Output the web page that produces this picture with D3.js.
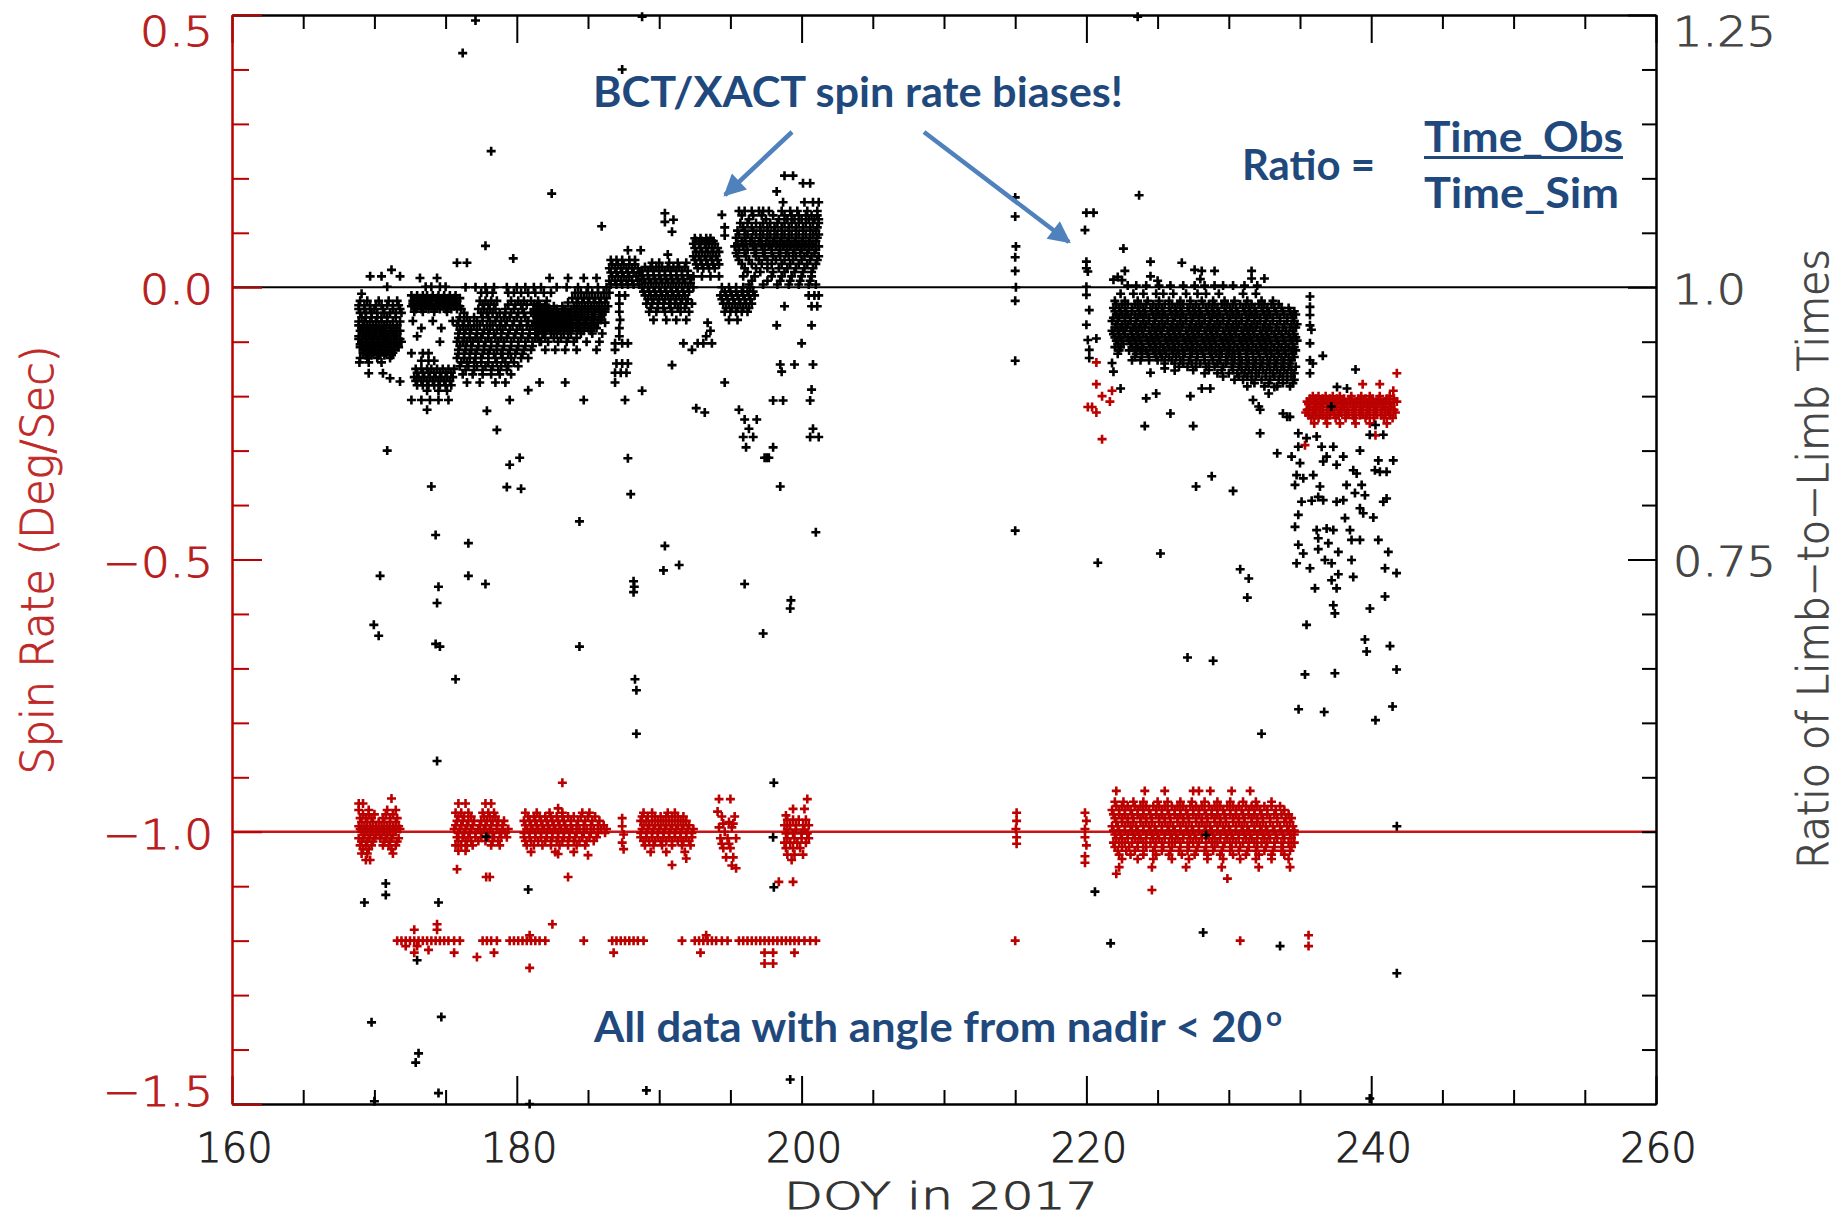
<!DOCTYPE html>
<html><head><meta charset="utf-8">
<script src="https://cdn.jsdelivr.net/npm/d3@7"></script>
<style>body{margin:0;background:#fff}svg{display:block}</style>
</head><body>
<svg id="chart" width="1841" height="1220"></svg>
<script>
// ---------- axis / tick definitions ----------
const xDomain = [160, 260];
const xMajorTicks = [160, 180, 200, 220, 240, 260];
const xMinorTicks = [165,170,175,185,190,195,205,210,215,225,230,235,245,250,255];
const yDomain = [-1.5, 0.5];
const yMajorTicks = [0.5, 0.0, -0.5, -1.0, -1.5];
const yTickLabels = ["0.5", "0.0", "\u22120.5", "\u22121.0", "\u22121.5"];
const yMinorTicks = [0.4,0.3,0.2,0.1,-0.1,-0.2,-0.3,-0.4,-0.6,-0.7,-0.8,-0.9,-1.1,-1.2,-1.3,-1.4];
const rDomain = [0.25, 1.25];
const rMajorTicks = [1.25, 1.0, 0.75];
const rTickLabels = ["1.25", "1.0", "0.75"];
const rMinorTicks = [1.2,1.15,1.1,1.05,0.95,0.9,0.85,0.8,0.7,0.65,0.6,0.55,0.5,0.45,0.4,0.35,0.3];
const refLines = [0.0, -1.0];

// ---------- black points (limb-to-limb ratio, plotted on spin-rate scale) ----------
// rows: [value, [DOY, DOY, ...]]
const blackRowsJun = [
 [0.02,[169.7,170.5,171.8]],[0.032,[171.2]],[0.001,[170.9,173.6,174.0,174.6,175.0]],[-0.012,[169.1]],
 [-0.025,[169.0,169.5,170.3,171.0,171.6]],
 [-0.04,[168.9,169.3,169.7,170.0,170.6,171.3,171.8]],
 [-0.055,[169.1,169.4,169.8,170.2,170.5,170.9,171.5]],
 [-0.07,[168.9,169.2,169.5,169.9,170.3,170.7,171.1,171.6]],
 [-0.08,[169.0,169.4,169.7,170.1,170.5,170.8,171.3,171.8]],
 [-0.09,[168.9,169.2,169.6,170.0,170.4,170.7,171.0,171.5]],
 [-0.10,[169.1,169.4,169.8,170.2,170.6,170.9,171.4,171.9]],
 [-0.11,[169.0,169.3,169.7,170.1,170.5,171.0,171.7]],
 [-0.12,[169.2,169.6,169.9,170.4,170.8,171.3]],
 [-0.13,[169.0,169.5,170.2,171.1]],[-0.138,[168.95,169.6,170.5]],[-0.158,[169.6,170.6]],[-0.167,[171.1]],[-0.173,[171.8]],
 [0.017,[173.2,174.4]],
 [-0.015,[172.6,173.0,173.4,173.7,174.1,174.5,174.9,175.3,175.7]],
 [-0.025,[172.7,173.1,173.5,173.9,174.3,174.6,175.0,175.4,175.8]],
 [-0.035,[172.6,173.0,173.3,173.6,174.0,174.4,174.8,175.2,175.6,176.0]],
 [-0.045,[172.8,173.4,174.2,175.1]],[-0.062,[172.7,174.1,175.5]],[-0.075,[173.3,174.7]],[-0.09,[173.0]],[-0.10,[174.6]],
 [-0.121,[172.6,173.4,173.8]],[-0.135,[173.3,173.8,174.2]],
 [-0.15,[172.9,173.3,173.7,174.0,174.4,174.8,175.2,175.6]],
 [-0.165,[172.8,173.1,173.5,173.9,174.3,174.7,175.1,175.5]],
 [-0.18,[173.0,173.4,173.8,174.2,174.6,175.0,175.4]],
 [-0.19,[173.7,174.5,175.1]],[-0.207,[172.6,173.3,173.9,174.5,175.2]],[-0.225,[173.7]],
 [0.0,[176.4,177.1,177.8,178.4,179.3,180.0,180.6,181.2,181.7]],
 [-0.01,[177.5,177.9,178.3,179.4,179.8,180.3,180.8,181.3,181.9,182.4]],
 [-0.025,[177.4,177.8,178.2,178.6,179.6,180.1,180.5,181.0,181.5,182.1]],
 [-0.04,[176.1,177.3,177.7,178.1,178.5,179.2,179.8,180.4,181.2,181.8,182.3]],
 [-0.055,[176.0,176.5,177.0,177.6,178.0,178.6,179.1,179.5,180.0,180.6,181.4,182.0]],
 [-0.07,[175.8,176.2,176.6,177.0,177.4,177.9,178.3,178.8,179.2,179.7,180.2,180.7,181.1,181.6,182.2]],
 [-0.085,[175.9,176.3,176.7,177.2,177.6,178.0,178.4,178.9,179.4,179.9,180.4,180.9,181.4,181.9]],
 [-0.10,[175.8,176.2,176.5,176.9,177.3,177.8,178.2,178.7,179.1,179.6,180.1,180.6,181.1,181.7]],
 [-0.115,[175.9,176.4,176.8,177.2,177.7,178.1,178.6,179.0,179.5,180.0,180.5,181.0]],
 [-0.13,[175.8,176.3,176.7,177.1,177.5,178.0,178.5,179.0,179.6,180.3,180.8]],
 [-0.145,[176.0,176.6,177.2,177.8,178.3,178.9,179.4,180.1]],
 [-0.16,[176.2,176.9,177.6,178.2,178.8,179.6]],
 [-0.175,[176.5,177.4,178.5,179.2,181.6]],[-0.189,[180.8]],[-0.207,[179.5]]
];
const blackFillJun = [
 [-0.033,[168.9,169.3,169.7,170.1,170.5,170.9,171.3,171.7]],
 [-0.047,[169.0,169.4,169.8,170.2,170.7,171.1,171.5,171.9]],
 [-0.063,[168.9,169.3,169.7,170.1,170.5,170.9,171.3,171.8]],
 [-0.075,[169.1,169.5,169.9,170.3,170.7,171.1,171.5]],
 [-0.085,[169.2,169.6,170.0,170.4,170.8,171.2,171.6]],
 [-0.095,[168.9,169.4,169.8,170.2,170.6,171.0,171.4,171.8]],
 [-0.105,[169.0,169.5,169.9,170.3,170.7,171.2,171.6]],
 [-0.115,[169.2,169.6,170.0,170.4,170.9,171.4]],
 [-0.125,[169.4,169.8,170.3,170.7,171.2]],
 [-0.02,[172.8,173.2,173.6,174.0,174.4,174.8,175.2,175.6,176.0]],
 [-0.03,[172.7,173.2,173.6,174.0,174.5,174.9,175.3,175.7]],
 [-0.04,[172.9,173.3,173.8,174.2,174.6,175.0,175.4,175.8]],
 [-0.157,[173.0,173.4,173.8,174.2,174.6,175.0,175.4]],
 [-0.172,[172.9,173.3,173.7,174.1,174.5,174.9,175.3]],
 [-0.032,[177.6,178.0,178.4,179.4,179.9,180.3,180.7,181.2,181.6,182.0]],
 [-0.047,[176.3,177.5,177.9,178.3,178.8,179.2,179.6,180.1,180.5,181.0,181.5,182.1]],
 [-0.062,[175.9,176.3,176.7,177.2,177.6,178.1,178.5,178.9,179.3,179.8,180.3,180.8,181.2,181.7,182.2]],
 [-0.078,[176.0,176.4,176.8,177.2,177.7,178.1,178.6,179.0,179.5,180.0,180.4,180.9,181.3,181.8]],
 [-0.093,[175.9,176.3,176.7,177.1,177.5,178.0,178.5,178.9,179.3,179.8,180.3,180.8,181.3]],
 [-0.108,[176.0,176.4,176.8,177.3,177.7,178.2,178.6,179.1,179.6,180.1,180.6,181.1]],
 [-0.122,[175.9,176.3,176.7,177.1,177.6,178.0,178.4,178.9,179.4,179.9,180.4]],
 [-0.138,[176.1,176.5,177.0,177.5,178.0,178.6,179.2,179.8]],
 [-0.152,[176.4,177.0,177.6,178.2,178.7,179.3]]
];
const blackRowsJul = [
 [0.017,[182.3,183.6,184.7,185.6]],
 [0.0,[182.8,183.5,184.3,185.0,185.7,186.3]],
 [-0.01,[184.1,184.5,184.9,185.3,185.7,186.1,186.5]],
 [-0.02,[183.9,184.3,184.7,185.1,185.5,185.9,186.3]],
 [-0.035,[181.4,182.0,182.6,183.2,184.0,184.4,184.8,185.2,185.6,186.0,186.4]],
 [-0.045,[181.2,181.6,182.0,182.4,182.8,183.2,183.6,184.1,184.6,185.0,185.4,185.8,186.2]],
 [-0.055,[181.4,181.8,182.2,182.6,183.0,183.4,183.8,184.3,184.8,185.3,185.9]],
 [-0.065,[181.3,181.7,182.1,182.5,182.9,183.3,183.7,184.2,184.7,185.2,185.7,186.2]],
 [-0.075,[181.5,181.9,182.3,182.7,183.1,183.5,183.9,184.4,185.0,185.6]],
 [-0.085,[181.3,181.8,182.4,182.8,183.3,183.8,184.5,185.3,186.0]],
 [-0.10,[181.6,182.2,182.9,183.5,184.0,184.9,185.8]],
 [-0.115,[182.0,182.7,183.4,184.2,185.6,186.9]],[-0.175,[183.4]],[-0.207,[184.7]],
 [0.068,[187.8,188.7]],
 [0.05,[186.6,187.0,187.4,187.9,188.3]],
 [0.035,[186.5,186.9,187.3,187.7,188.1,188.5]],
 [0.02,[186.7,187.1,187.5,187.9,188.4]],
 [0.005,[186.6,187.0,187.4,187.8,188.2,188.6]],
 [-0.015,[187.2,187.6]],[-0.03,[187.2]],[-0.045,[187.2]],[-0.06,[187.25]],[-0.075,[187.2]],[-0.09,[187.2]],
 [-0.103,[186.9,187.4,187.8]],[-0.14,[187.0,187.4,187.8]],[-0.157,[186.9,187.3,187.7]],
 [-0.175,[186.9]],[-0.19,[188.8]],[-0.207,[187.6]],
 [0.136,[190.4]],[0.12,[190.4]],[0.124,[191.0]],[0.102,[190.9]],[0.06,[190.6]],
 [0.045,[189.5,190.0,190.7,191.3,191.9]],
 [0.03,[188.8,189.2,189.6,190.0,190.4,190.8,191.2,191.6,192.0]],
 [0.015,[188.9,189.3,189.7,190.1,190.5,190.9,191.3,191.7,192.2]],
 [0.0,[188.8,189.2,189.6,190.0,190.4,190.8,191.2,191.6,192.0,192.4]],
 [-0.015,[189.0,189.4,189.8,190.2,190.6,191.0,191.4,191.8]],
 [-0.03,[189.1,189.5,189.9,190.3,190.7,191.1,191.5,191.9,192.3]],
 [-0.045,[189.3,189.8,190.4,190.9,191.5,192.1]],
 [-0.06,[189.6,190.5,191.2,191.9]],
 [-0.103,[191.7,192.7,193.1,193.7]],[-0.115,[192.3]],[-0.143,[190.9]],[-0.222,[192.6]],
 [0.133,[194.4]],[0.11,[194.6]],[0.095,[194.6]],
 [0.09,[192.5,192.9,193.3,193.6]],
 [0.08,[192.4,192.8,193.2,193.5,193.9]],
 [0.065,[192.6,193.0,193.4,193.8,194.2]],
 [0.05,[192.5,192.9,193.3,193.7,194.1]],
 [0.035,[192.7,193.1,193.5,193.9]],
 [0.02,[192.4,193.0,193.6,194.2]],
 [0.0,[194.4,194.9,195.4,195.9,196.4]],
 [-0.015,[194.3,194.7,195.1,195.5,195.9,196.3,196.7]],
 [-0.03,[194.5,194.9,195.3,195.7,196.1,196.5]],
 [-0.045,[194.6,195.0,195.4,195.8,196.2]],
 [-0.06,[194.9,195.5]],[-0.065,[193.4]],[-0.08,[193.6]],[-0.09,[193.3]],[-0.175,[194.6]],[-0.225,[195.6]],
 [0.205,[198.8,199.4]],[0.191,[200.1,200.6]],[0.176,[198.25]],[0.156,[198.7,200.2,200.8,201.2]],
 [0.14,[195.6,196.0,196.5,197.0,197.3,197.7,198.6,199.2,199.7,200.4,201.1]],
 [0.125,[196.3,197.5,198.4,199.0,199.5,200.0,200.5,200.9,201.2]],
 [0.11,[195.9,196.5,197.1,197.6,198.1,198.6,199.1,199.6,200.1,200.6,201.1]],
 [0.097,[195.6,196.2,196.8,197.3,197.8,198.3,198.8,199.3,199.8,200.3,200.8,201.2]],
 [0.085,[195.8,196.4,197.0,197.5,198.0,198.5,199.0,199.5,200.0,200.5,201.0]],
 [0.075,[195.3,195.9,196.6,197.2,197.7,198.2,198.7,199.2,199.7,200.2,200.7,201.2]],
 [0.063,[195.4,196.0,196.7,197.3,197.9,198.4,198.9,199.4,199.9,200.4,200.9]],
 [0.05,[195.6,196.3,197.0,197.6,198.2,198.8,199.4,200.0,200.6,201.1]],
 [0.035,[196.0,196.8,197.6,198.4,199.0,199.6,200.2,200.8]],
 [0.02,[195.9,196.7,197.9,198.6,199.3,200.0,200.7]],
 [0.005,[196.3,197.3,198.3,199.1,199.8,200.5,201.0]],
 [-0.015,[200.5,200.9,201.2]],[-0.035,[198.8,200.7,201.1]],[-0.07,[198.25,200.7]],[-0.103,[200.0]],
 [-0.142,[198.5,199.5,200.8]],[-0.155,[198.6]],[-0.188,[200.7]],[-0.208,[198.0,198.7,200.6]],
 [-0.243,[196.0,196.85]],[-0.26,[196.3,200.8]],[-0.275,[195.9,196.6,200.6,201.2]],
 [-0.294,[196.1,198.0]],[-0.313,[197.4,197.55,197.7]],[-0.366,[198.5]]
];
const blackFillJul = [
 [-0.028,[183.6,184.2,184.6,185.0,185.4,185.8,186.2]],
 [-0.04,[181.6,182.2,182.8,183.4,183.8,184.2,184.6,185.0,185.4,185.8,186.2]],
 [-0.05,[181.3,181.7,182.1,182.5,182.9,183.3,183.7,184.1,184.5,185.0,185.5,186.0]],
 [-0.06,[181.5,181.9,182.3,182.7,183.1,183.5,183.9,184.4,184.9,185.4,185.9]],
 [-0.07,[181.4,181.8,182.2,182.6,183.0,183.4,183.8,184.3,184.8,185.4]],
 [-0.08,[181.6,182.0,182.4,182.9,183.3,183.7,184.2,184.7,185.2]],
 [-0.093,[181.5,182.0,182.6,183.1,183.6,184.2]],
 [0.042,[186.7,187.1,187.5,187.9,188.3]],
 [0.027,[186.6,187.0,187.4,187.8,188.2,188.6]],
 [0.012,[186.5,186.9,187.3,187.7,188.1,188.5]],
 [0.037,[189.0,189.4,189.8,190.2,190.6,191.0,191.4,191.8]],
 [0.022,[188.8,189.2,189.6,190.0,190.4,190.8,191.2,191.6,192.0]],
 [0.008,[189.0,189.4,189.8,190.2,190.6,191.0,191.4,191.8,192.2]],
 [-0.008,[188.9,189.3,189.7,190.1,190.5,190.9,191.3,191.7,192.1]],
 [-0.022,[189.2,189.6,190.0,190.4,190.8,191.2,191.6,192.0]],
 [-0.038,[189.4,189.9,190.3,190.8,191.3,191.8]],
 [0.085,[192.6,193.0,193.4,193.8]],
 [0.072,[192.5,192.9,193.3,193.7,194.1]],
 [0.057,[192.4,192.8,193.2,193.6,194.0]],
 [0.042,[192.6,193.0,193.4,193.8,194.2]],
 [-0.008,[194.6,195.0,195.4,195.8,196.2,196.6]],
 [-0.022,[194.4,194.8,195.2,195.6,196.0,196.4]],
 [-0.038,[194.7,195.1,195.5,195.9,196.3]],
 [0.132,[195.8,196.6,197.2,198.0,198.8,199.3,199.8,200.3,200.7,201.1]],
 [0.118,[195.7,196.2,196.8,197.3,197.8,198.3,198.8,199.3,199.8,200.3,200.8,201.2]],
 [0.104,[195.5,196.0,196.6,197.1,197.6,198.1,198.6,199.1,199.6,200.1,200.6,201.0]],
 [0.091,[195.4,196.0,196.5,197.1,197.6,198.1,198.6,199.1,199.6,200.1,200.6,201.1]],
 [0.08,[195.5,196.1,196.7,197.2,197.8,198.3,198.8,199.3,199.8,200.3,200.8]],
 [0.069,[195.6,196.2,196.8,197.4,197.9,198.5,199.0,199.5,200.0,200.5,201.0]],
 [0.057,[195.5,196.1,196.8,197.4,198.0,198.5,199.1,199.6,200.2,200.7,201.2]],
 [0.043,[195.8,196.5,197.2,197.9,198.6,199.2,199.8,200.4,201.0]],
 [0.028,[196.2,197.1,198.0,198.8,199.5,200.1,200.7]],
 [0.012,[196.5,197.6,198.5,199.2,199.9,200.6]]
];
// isolated black points [DOY, value], June-July
const blackOutJunJul = [
 [176.2,0.43],[177.1,0.49],[178.2,0.25],[182.45,0.172],[185.96,0.112],[187.4,0.40],[188.8,0.497],
 [175.8,0.045],[176.5,0.045],[177.8,0.076],[179.75,0.053],
 [170.9,-0.30],[170.4,-0.53],[169.96,-0.62],[170.3,-0.64],
 [174.0,-0.366],[174.3,-0.455],[174.5,-0.55],[174.4,-0.58],[174.3,-0.655],[174.6,-0.66],[175.7,-0.72],[174.4,-0.87],
 [177.9,-0.227],[178.6,-0.262],[179.5,-0.326],[180.2,-0.313],[176.6,-0.47],[176.6,-0.53],[177.8,-0.545],[179.3,-0.367],[180.3,-0.37],
 [184.4,-0.43],[184.4,-0.66],[187.8,-0.314],[188.0,-0.38],
 [188.2,-0.54],[188.25,-0.55],[188.2,-0.56],[188.3,-0.72],[188.4,-0.74],[188.4,-0.82],
 [190.4,-0.475],[190.3,-0.52],[191.4,-0.51],[193.2,-0.23],
 [196.0,-0.545],[197.3,-0.636],[199.2,-0.59],[199.25,-0.575],[201.0,-0.45],
 [169.3,-1.13],[170.8,-1.095],[170.8,-1.116],[174.5,-1.13],[180.8,-1.106],[177.85,-1.009],[173.0,-1.236],
 [198.05,-1.102],[198.05,-0.91],[198.0,-1.01],
 [169.8,-1.35],[173.1,-1.407],[172.9,-1.424],[174.7,-1.34],
 [170.0,-1.495],[174.5,-1.48],[180.9,-1.5],[189.1,-1.475],[199.2,-1.455]
];
// black core, August (rows)
const blackRowsAug = [
 [0.003,[222.9,223.5,224.2,225.1,225.9,226.8,227.6,228.3,229.0,229.6,230.3,231.1,232.0]],
 [-0.012,[222.4,223.3,224.0,224.9,225.4,226.1,227.0,227.8,228.4,229.3,231.0,231.9]],
 [-0.025,[222.0,222.7,223.6,224.3,225.1,225.8,226.6,227.3,228.1,228.9,229.7,230.4,231.3,232.3,233.1]],
 [-0.038,[221.9,222.3,222.7,223.2,223.6,224.0,224.5,224.9,225.3,225.8,226.2,226.6,227.1,227.5,227.9,228.4,228.8,229.2,229.7,230.1,230.5,231.0,231.4,231.8,232.3,232.7,233.2,233.7,234.2]],
 [-0.05,[222.1,222.5,222.9,223.4,223.8,224.2,224.7,225.1,225.5,226.0,226.4,226.8,227.3,227.7,228.1,228.6,229.0,229.4,229.9,230.3,230.7,231.2,231.6,232.0,232.5,232.9,233.4,233.9,234.4,234.7]],
 [-0.062,[221.8,222.2,222.7,223.1,223.5,224.0,224.4,224.8,225.3,225.7,226.1,226.6,227.0,227.4,227.9,228.3,228.7,229.2,229.6,230.0,230.5,230.9,231.3,231.8,232.2,232.6,233.1,233.6,234.1,234.6]],
 [-0.074,[222.0,222.4,222.8,223.3,223.7,224.1,224.6,225.0,225.4,225.9,226.3,226.7,227.2,227.6,228.0,228.5,228.9,229.3,229.8,230.2,230.6,231.1,231.5,231.9,232.4,232.8,233.3,233.8,234.3,234.7]],
 [-0.086,[221.9,222.3,222.7,223.2,223.6,224.0,224.5,224.9,225.3,225.8,226.2,226.6,227.1,227.5,227.9,228.4,228.8,229.2,229.7,230.1,230.5,231.0,231.4,231.8,232.3,232.7,233.2,233.7,234.2,234.6]],
 [-0.098,[222.1,222.5,223.0,223.4,223.8,224.3,224.7,225.1,225.6,226.0,226.4,226.9,227.3,227.7,228.2,228.6,229.0,229.5,229.9,230.3,230.8,231.2,231.6,232.1,232.5,232.9,233.4,233.9,234.4,234.8]],
 [-0.11,[222.0,222.4,223.2,223.6,224.0,224.5,224.9,225.4,225.8,226.2,226.7,227.1,227.5,228.0,228.4,228.8,229.3,229.7,230.1,230.6,231.0,231.4,231.9,232.3,232.7,233.2,233.7,234.2,234.6]],
 [-0.122,[222.2,223.5,223.9,224.3,224.8,225.2,225.6,226.1,226.5,226.9,227.4,227.8,228.2,228.7,229.1,229.5,230.0,230.4,230.8,231.3,231.7,232.1,232.6,233.0,233.5,234.0,234.5]],
 [-0.134,[223.2,223.8,224.4,225.0,225.5,226.0,226.6,227.2,227.7,228.3,228.9,229.4,229.9,230.4,230.9,231.4,231.9,232.4,232.9,233.4,233.9,234.4]],
 [-0.146,[226.5,227.1,227.7,228.4,229.0,229.6,230.2,230.7,231.2,231.7,232.2,232.7,233.2,233.7,234.2,234.7]],
 [-0.158,[228.3,229.2,230.0,230.6,231.1,231.6,232.1,232.6,233.1,233.6,234.1,234.6]],
 [-0.17,[230.4,231.0,231.6,232.3,232.9,233.5,234.1,234.6]],
 [-0.182,[231.3,232.5,233.4,234.3]]
];
const blackFillAug = [
 [-0.031,[222.1,222.5,222.9,223.4,223.8,224.2,224.7,225.1,225.5,226.0,226.4,226.8,227.3,227.7,228.2,228.6,229.0,229.5,229.9,230.3,230.8,231.2,231.6,232.1,232.5,233.0,233.5]],
 [-0.044,[222.0,222.4,222.8,223.2,223.7,224.1,224.6,225.0,225.4,225.9,226.3,226.7,227.2,227.6,228.0,228.5,228.9,229.3,229.8,230.2,230.6,231.1,231.5,231.9,232.4,232.8,233.3,233.8,234.3,234.6]],
 [-0.056,[221.9,222.3,222.7,223.1,223.6,224.0,224.4,224.9,225.3,225.7,226.2,226.6,227.0,227.5,227.9,228.3,228.8,229.2,229.6,230.1,230.5,230.9,231.4,231.8,232.2,232.7,233.1,233.6,234.1,234.5]],
 [-0.068,[222.1,222.5,222.9,223.4,223.8,224.2,224.7,225.1,225.5,226.0,226.4,226.8,227.3,227.7,228.1,228.6,229.0,229.4,229.9,230.3,230.7,231.2,231.6,232.0,232.5,232.9,233.4,233.9,234.4,234.8]],
 [-0.08,[221.8,222.2,222.6,223.1,223.5,223.9,224.4,224.8,225.2,225.7,226.1,226.5,227.0,227.4,227.8,228.3,228.7,229.1,229.6,230.0,230.4,230.9,231.3,231.7,232.2,232.6,233.0,233.5,234.0,234.5]],
 [-0.092,[222.0,222.4,222.9,223.3,223.7,224.2,224.6,225.0,225.5,225.9,226.3,226.8,227.2,227.6,228.1,228.5,228.9,229.4,229.8,230.2,230.7,231.1,231.5,232.0,232.4,232.8,233.3,233.8,234.3,234.7]],
 [-0.104,[222.2,222.6,223.1,223.5,223.9,224.4,224.8,225.2,225.7,226.1,226.5,227.0,227.4,227.8,228.3,228.7,229.1,229.6,230.0,230.4,230.9,231.3,231.7,232.2,232.6,233.0,233.5,234.0,234.5]],
 [-0.116,[222.3,223.0,223.4,223.8,224.2,224.7,225.1,225.5,226.0,226.4,226.8,227.3,227.7,228.1,228.6,229.0,229.4,229.9,230.3,230.7,231.2,231.6,232.0,232.5,232.9,233.4,233.9,234.4,234.7]],
 [-0.128,[223.4,223.9,224.4,224.9,225.3,225.8,226.3,226.8,227.3,227.8,228.3,228.8,229.3,229.8,230.2,230.7,231.2,231.7,232.2,232.7,233.2,233.7,234.2,234.6]],
 [-0.14,[225.5,226.2,226.8,227.4,228.0,228.6,229.2,229.8,230.3,230.8,231.3,231.8,232.3,232.8,233.3,233.8,234.3]],
 [-0.152,[227.5,228.6,229.5,230.3,230.9,231.4,231.9,232.4,232.9,233.4,233.9,234.4]],
 [-0.164,[229.6,230.7,231.3,231.9,232.6,233.2,233.8,234.4]],
 [-0.176,[231.8,232.8,233.8,234.5]]
];
const blackOutAug = [
 [215.0,0.165],[215.0,0.13],[215.05,0.075],[215.0,0.055],[215.0,0.03],[215.05,0.0],[215.0,-0.025],[215.0,-0.135],[215.0,-0.447],
 [220.0,0.137],[220.5,0.137],[219.9,0.105],[220.0,0.047],[220.0,0.035],[220.1,0.029],[220.0,0.001],[220.0,-0.014],[220.2,-0.042],[220.0,-0.069],[220.1,-0.097],[220.2,-0.115],[220.2,-0.13],[220.7,-0.094],
 [222.6,0.071],[221.9,0.014],[222.2,0.019],[222.7,0.03],[222.5,0.013],[223.7,0.169],[223.6,0.497],
 [224.5,0.047],[226.7,0.045],[227.6,0.032],[228.1,0.03],[228.0,0.015],[229.0,0.03],[231.6,0.03],[231.6,0.016],[232.5,0.016],[224.5,0.02],[225.0,0.012],
 [221.8,-0.139],[221.9,-0.155],[222.4,-0.186],[224.2,-0.204],[224.9,-0.195],[225.9,-0.232],[224.1,-0.255],[227.5,-0.255],[227.3,-0.2],[228.1,-0.186],[228.7,-0.186],[224.5,-0.157],[225.5,-0.149],[226.2,-0.153],[231.7,-0.207],[232.1,-0.219],[232.2,-0.225],[232.8,-0.195],[233.2,-0.183],[232.2,-0.268],[233.8,-0.232],[234.1,-0.238],[233.4,-0.305],
 [220.8,-0.506],[225.2,-0.489],[227.7,-0.366],[228.8,-0.347],[230.3,-0.374],[230.8,-0.518],[231.4,-0.535],[231.3,-0.57],[228.9,-0.686],[232.3,-0.82],[227.1,-0.68],
 [235.7,-0.017],[235.7,-0.036],[235.7,-0.051],[235.7,-0.07],[235.8,-0.078],[235.7,-0.103],[235.7,-0.134],[235.9,-0.14],[235.7,-0.158],[236.6,-0.126],
 [238.9,-0.151],[237.6,-0.183],[238.3,-0.186],[237.2,-0.219],[240.3,-0.253],[240.85,-0.271],[239.9,-0.271],
 [234.29,-0.238],[234.88,-0.268],[235.46,-0.277],[236.17,-0.274],[234.88,-0.293],[236.52,-0.293],[237.34,-0.293],[236.87,-0.311],[236.63,-0.32],[237.57,-0.326],[238.04,-0.311],[239.21,-0.3],[238.74,-0.336],[238.98,-0.342],[240.26,-0.336],[240.61,-0.339],[241.08,-0.339],[241.55,-0.318],[240.5,-0.318],
 [234.41,-0.311],[235.0,-0.323],[234.76,-0.345],[235.93,-0.345],[235.23,-0.351],[234.65,-0.363],[236.4,-0.366],[238.27,-0.363],[239.33,-0.363],[238.86,-0.378],[239.56,-0.382],[236.28,-0.385],[235.11,-0.394],[235.82,-0.392],[236.63,-0.391],[237.57,-0.394],[238.04,-0.391],[241.08,-0.388],[240.85,-0.394],
 [239.21,-0.406],[239.44,-0.415],[240.15,-0.423],[238.16,-0.424],[234.88,-0.418],[234.65,-0.44],[236.17,-0.446],[236.87,-0.443],[237.34,-0.446],[238.51,-0.446],[238.62,-0.464],[239.21,-0.464],[240.5,-0.464],[236.28,-0.461],[236.99,-0.47],[234.88,-0.473],
 [235.23,-0.489],[236.28,-0.481],[237.69,-0.486],[241.2,-0.486],[234.76,-0.507],[235.7,-0.516],[236.75,-0.501],[237.22,-0.507],[238.62,-0.501],[237.69,-0.527],[238.74,-0.532],[240.97,-0.516],[241.78,-0.525],
 [236.05,-0.553],[237.22,-0.538],[237.57,-0.553],[240.97,-0.568],[237.34,-0.584],[237.45,-0.599],[239.91,-0.59],[235.46,-0.62],[239.56,-0.647],[239.68,-0.669],[241.32,-0.659],[235.35,-0.711],[237.45,-0.709],[241.78,-0.702],
 [234.9,-0.775],[236.7,-0.78],[240.3,-0.795],[241.5,-0.77],[241.8,-0.99],[241.8,-1.26],[239.9,-1.49],[233.6,-1.21],[228.2,-1.185],[221.7,-1.205],[220.6,-1.11],[228.4,-1.006]
];

// ---------- red points (spin rate) ----------
const redRowsJunJul = [
 [-0.939,[171.2]],[-0.948,[168.9,169.2]],[-0.96,[168.9,169.6,170.9,171.5]],
 [-0.975,[169.0,169.4,169.8,170.6,171.1,171.6]],
 [-0.99,[168.9,169.3,169.7,170.1,170.5,170.9,171.3,171.7]],
 [-1.0,[169.1,169.5,169.9,170.3,170.7,171.1,171.5]],
 [-1.012,[168.9,169.2,169.6,170.0,170.4,170.8,171.2,171.7]],
 [-1.025,[169.0,169.4,169.8,170.6,171.0,171.5]],[-1.04,[169.1,169.5,171.3]],[-1.052,[169.4,169.7]],
 [-0.948,[175.9,176.4,177.8,178.2]],
 [-0.965,[175.7,176.1,176.6,177.6,178.0,178.4]],
 [-0.98,[175.8,176.2,176.6,177.0,177.5,177.9,178.3,178.7,179.1]],
 [-0.995,[175.6,176.0,176.4,176.8,177.3,177.7,178.1,178.6,179.0,179.4]],
 [-1.01,[175.8,176.2,176.6,177.1,177.5,178.0,178.4,178.9,179.3]],
 [-1.025,[175.7,176.1,176.5,176.9,178.2,178.8]],[-1.035,[175.9,176.4]],[-1.069,[175.8]],[-1.083,[177.85,178.1]],
 [-0.91,[183.2]],[-0.957,[182.9]],
 [-0.965,[180.6,181.4,182.3,183.2,184.6,185.1]],
 [-0.98,[180.5,180.9,181.3,181.7,182.1,182.5,182.9,183.3,183.8,184.3,184.8,185.3,185.8]],
 [-0.995,[180.7,181.1,181.5,181.9,182.3,182.7,183.1,183.5,183.9,184.4,184.9,185.4,185.9,186.3]],
 [-1.01,[180.5,180.9,181.3,181.7,182.1,182.5,182.9,183.3,183.7,184.1,184.6,185.1,185.6]],
 [-1.025,[180.7,181.2,181.8,182.4,183.0,183.6,184.2,184.8]],[-1.037,[181.0,182.7,184.0]],
 [-1.041,[182.9]],[-1.043,[185.0]],[-1.083,[183.6]],
 [-0.975,[187.4]],[-0.99,[187.4]],[-1.005,[187.5]],[-1.02,[187.4]],[-1.032,[187.5]],
 [-0.965,[188.9,189.5,190.6,191.1]],
 [-0.98,[188.7,189.1,189.5,189.9,190.3,190.7,191.1,191.5,191.9]],
 [-0.995,[188.8,189.2,189.6,190.0,190.4,190.8,191.2,191.6,192.0,192.4]],
 [-1.01,[188.7,189.1,189.5,189.9,190.3,190.7,191.1,191.5,191.9,192.3]],
 [-1.025,[189.0,189.6,190.2,190.9,191.6,192.2]],[-1.037,[189.4,190.5,191.8]],[-1.061,[190.9]],[-1.049,[191.9]],
 [-0.94,[194.2,195.0]],[-0.963,[194.1]],[-0.972,[194.4,195.3]],[-0.982,[194.9]],[-0.992,[194.2,195.1]],
 [-1.0,[194.6]],[-1.012,[194.3,194.8,195.4]],[-1.03,[194.5,195.0]],[-1.047,[194.7,195.2]],[-1.062,[195.1]],[-1.067,[195.4]],
 [-0.94,[200.4]],[-0.958,[199.4,200.2]],[-0.97,[198.9]],
 [-0.988,[198.8,199.2,199.6,200.1,200.5]],
 [-1.003,[198.9,199.4,200.0,200.4]],
 [-1.02,[198.8,199.2,199.7,200.3]],[-1.042,[199.0,199.5,200.1]],[-1.052,[199.3]],[-1.092,[198.4,199.4]],
 [-0.965,[215.1]],[-0.98,[215.1]],[-0.995,[215.05]],[-1.01,[215.1]],[-1.022,[215.1]],
 [-0.965,[219.9]],[-0.98,[220.0]],[-0.995,[219.9]],[-1.01,[219.9]],[-1.025,[220.0]],[-1.045,[219.9]],[-1.057,[219.9]]
];
const redFillJunJul = [
 [-0.968,[169.2,169.6,170.0,170.8,171.3]],
 [-0.982,[169.1,169.5,169.9,170.3,170.7,171.1,171.5]],
 [-0.995,[169.0,169.4,169.8,170.2,170.6,171.0,171.4,171.8]],
 [-1.006,[169.3,169.7,170.1,170.5,170.9,171.3]],
 [-1.018,[169.1,169.5,169.9,170.7,171.1,171.6]],
 [-1.032,[169.2,169.6,171.2]],
 [-0.972,[175.9,176.3,176.8,177.7,178.1,178.5]],
 [-0.988,[175.7,176.1,176.5,176.9,177.4,177.8,178.2,178.6,179.0]],
 [-1.002,[175.9,176.3,176.7,177.1,177.5,177.9,178.3,178.8,179.2]],
 [-1.017,[175.9,176.4,176.8,177.3,177.8,178.3,178.7]],
 [-0.972,[180.8,181.2,181.6,182.0,182.4,182.8,183.2,183.6,184.0,184.5,185.0,185.5]],
 [-0.988,[180.6,181.0,181.4,181.8,182.2,182.6,183.0,183.4,183.8,184.2,184.7,185.2,185.7,186.1]],
 [-1.002,[180.5,180.9,181.3,181.7,182.1,182.5,182.9,183.3,183.7,184.2,184.7,185.2,185.7,186.2]],
 [-1.017,[180.6,181.0,181.5,182.0,182.4,182.8,183.2,183.6,184.0,184.4,184.9,185.4]],
 [-0.972,[188.8,189.2,189.7,190.1,190.5,190.9,191.3,191.7]],
 [-0.988,[188.9,189.3,189.7,190.1,190.5,190.9,191.3,191.7,192.1]],
 [-1.002,[188.7,189.1,189.5,189.9,190.3,190.7,191.1,191.5,191.9,192.3]],
 [-1.017,[188.9,189.3,189.7,190.1,190.5,190.9,191.3,191.7,192.1]],
 [-0.978,[199.0,199.4,199.8,200.3]],[-0.996,[199.0,199.6,200.2]],[-1.012,[199.0,199.5,200.0,200.5]],[-1.03,[198.9,199.4,199.9]],
 [-0.985,[194.5,195.2]],[-1.022,[194.4,194.9]]
];
const redRowsAug = [
 [-0.925,[222.1,224.1,225.5,227.5,227.9,228.7,230.2,231.5]],
 [-0.945,[222.0,222.6,223.3,224.0,225.0,225.7,226.6,227.4,228.3,229.2,230.1,231.0,231.9,233.0]],
 [-0.96,[221.8,222.3,222.7,223.1,223.6,224.0,224.4,224.9,225.3,225.7,226.2,226.6,227.0,227.5,227.9,228.3,228.8,229.2,229.6,230.1,230.5,230.9,231.4,231.8,232.2,232.7,233.3,233.9]],
 [-0.975,[222.0,222.5,222.9,223.3,223.8,224.2,224.6,225.1,225.5,225.9,226.4,226.8,227.2,227.7,228.1,228.5,229.0,229.4,229.8,230.3,230.7,231.1,231.6,232.0,232.4,232.9,233.4,234.0,234.4]],
 [-0.99,[221.8,222.2,222.7,223.1,223.5,224.0,224.4,224.8,225.3,225.7,226.1,226.6,227.0,227.4,227.9,228.3,228.7,229.2,229.6,230.0,230.5,230.9,231.3,231.8,232.2,232.6,233.1,233.6,234.1,234.5]],
 [-1.005,[222.0,222.4,222.9,223.3,223.7,224.2,224.6,225.0,225.5,225.9,226.3,226.8,227.2,227.6,228.1,228.5,228.9,229.4,229.8,230.2,230.7,231.1,231.5,232.0,232.4,232.8,233.3,233.8,234.3,234.6]],
 [-1.02,[221.9,222.3,222.7,223.2,223.6,224.0,224.5,224.9,225.3,225.8,226.2,226.6,227.1,227.5,227.9,228.4,228.8,229.2,229.7,230.1,230.5,231.0,231.4,231.8,232.3,232.7,233.2,233.7,234.2,234.6]],
 [-1.035,[222.2,222.8,223.4,224.0,224.7,225.3,225.9,226.5,227.1,227.7,228.3,228.9,229.5,230.1,230.7,231.3,231.9,232.5,233.1,233.7,234.3]],
 [-1.05,[222.5,223.6,224.7,226.0,227.2,228.5,229.6,230.8,231.9,233.0,234.2]],
 [-1.065,[222.3,224.6,227.0,229.5,232.1,234.3]],
 [-1.077,[222.1]],[-1.086,[229.9]],[-1.107,[224.6]],
 // spin-rate cluster near -0.22
 [-0.138,[220.7]],[-0.158,[241.8]],[-0.178,[220.7,239.4,240.6]],[-0.19,[221.8,241.55]],
 [-0.2,[221.1,235.9,236.3,236.8,237.3,237.8,238.6,239.3,239.9,240.6,241.3]],
 [-0.21,[221.65,235.5,236.0,236.5,237.0,237.5,238.0,238.5,239.0,239.5,240.0,240.5,241.0,241.6,241.8]],
 [-0.22,[220.1,220.4,235.7,236.2,236.6,237.1,237.6,238.1,238.7,239.2,239.7,240.2,240.8,241.4]],
 [-0.23,[220.7,235.4,235.9,236.4,236.9,237.4,237.9,238.4,238.9,239.4,239.9,240.4,241.0,241.7]],
 [-0.24,[235.8,236.3,236.8,237.5,238.2,238.8,239.6,240.2,240.9,241.5]],
 [-0.25,[236.0,236.9,237.8,238.9,239.9,241.1]],
 [-0.272,[240.3]],[-0.279,[221.1]],[-0.29,[235.35]]
];
const redFillAug = [
 [-0.953,[222.1,222.5,222.9,223.4,223.8,224.2,224.7,225.1,225.5,226.0,226.4,226.8,227.3,227.7,228.1,228.6,229.0,229.4,229.9,230.3,230.7,231.2,231.6,232.0,232.5,233.0,233.6]],
 [-0.968,[221.9,222.3,222.7,223.2,223.6,224.0,224.5,224.9,225.3,225.8,226.2,226.6,227.1,227.5,227.9,228.4,228.8,229.2,229.7,230.1,230.5,231.0,231.4,231.8,232.3,232.7,233.2,233.7,234.2]],
 [-0.982,[222.1,222.5,222.9,223.3,223.8,224.2,224.6,225.1,225.5,225.9,226.4,226.8,227.2,227.7,228.1,228.5,229.0,229.4,229.8,230.3,230.7,231.1,231.6,232.0,232.4,232.9,233.4,233.9,234.3]],
 [-0.998,[221.9,222.3,222.7,223.2,223.6,224.0,224.5,224.9,225.3,225.8,226.2,226.6,227.1,227.5,227.9,228.4,228.8,229.2,229.7,230.1,230.5,231.0,231.4,231.8,232.3,232.7,233.2,233.7,234.2,234.6]],
 [-1.012,[222.1,222.5,222.9,223.4,223.8,224.2,224.7,225.1,225.5,226.0,226.4,226.8,227.3,227.7,228.1,228.6,229.0,229.4,229.9,230.3,230.7,231.2,231.6,232.0,232.5,232.9,233.4,233.9,234.4]],
 [-1.028,[222.0,222.5,223.0,223.6,224.2,224.8,225.4,226.0,226.6,227.2,227.8,228.4,229.0,229.6,230.2,230.8,231.4,232.0,232.6,233.2,233.8,234.4]],
 [-1.042,[222.3,223.1,224.0,224.9,225.8,226.7,227.6,228.5,229.4,230.3,231.2,232.1,233.0,233.9]],
 [-0.205,[235.7,236.1,236.6,237.1,237.6,238.1,238.6,239.1,239.6,240.1,240.6,241.1,241.6]],
 [-0.215,[235.6,236.1,236.5,237.0,237.4,237.9,238.3,238.8,239.3,239.8,240.3,240.8,241.3]],
 [-0.225,[235.5,236.0,236.4,236.9,237.3,237.8,238.3,238.8,239.3,239.8,240.3,240.7,241.2,241.6]],
 [-0.235,[235.6,236.1,236.6,237.1,237.7,238.2,238.7,239.2,239.7,240.2,240.7,241.3]]
];
// spin-rate band near -1.2 (rows)
const redRowsLow = [
 [-1.2,[171.6,171.9,172.2,172.5,172.8,173.1,173.4,173.7,174.0,174.3,174.6,174.9,175.2,175.6,176.0,
        177.6,177.9,178.2,178.6,179.5,179.8,180.1,180.4,180.7,181.0,181.3,181.6,182.0,184.7,
        186.7,187.0,187.3,187.6,187.9,188.2,188.5,188.9,191.6,192.5,192.8,193.1,193.4,193.7,194.0,194.4,194.8,
        195.6,195.9,196.2,196.5,196.8,197.1,197.4,197.7,198.0,198.3,198.6,198.9,199.2,199.5,199.8,200.2,200.6,201.0,
        215.0,230.8]],
 [-1.17,[174.4,182.5]],[-1.18,[172.8,174.4]],[-1.19,[180.9,193.3,235.6]],
 [-1.21,[172.2,173.0,235.6]],[-1.217,[173.8]],[-1.222,[172.8,175.6,178.4,186.8,192.9,197.4,198.0,199.5]],
 [-1.23,[177.2]],[-1.242,[197.4,198.0]],[-1.25,[180.9]]
];

// ---------- build ----------
const W = 1841, H = 1220;
const M = {left: 232, right: 1656, top: 15, bottom: 1104};
const RED = "#bb0000";
const svg = d3.select("#chart");

const x = d3.scaleLinear().domain(xDomain).range([M.left, M.right]);
const y = d3.scaleLinear().domain(yDomain).range([M.bottom, M.top]);
const yR = d3.scaleLinear().domain(rDomain).range([M.bottom, M.top]);

const rowsToPts = rows => rows.flatMap(([v, ds]) => ds.map(d => [d, v]));
const blackPts = [...rowsToPts(blackRowsJun), ...rowsToPts(blackFillJun), ...rowsToPts(blackRowsJul),
                  ...rowsToPts(blackFillJul), ...blackOutJunJul,
                  ...rowsToPts(blackRowsAug), ...rowsToPts(blackFillAug), ...blackOutAug];
const redPts = [...rowsToPts(redRowsJunJul), ...rowsToPts(redFillJunJul), ...rowsToPts(redRowsAug),
                ...rowsToPts(redFillAug), ...rowsToPts(redRowsLow)];

const tickFont = "'DejaVu Sans', sans-serif";

// reference lines
svg.append("line").attr("x1", M.left).attr("x2", M.right).attr("y1", y(refLines[0])).attr("y2", y(refLines[0]))
  .attr("stroke", "#000").attr("stroke-width", 1.8);
svg.append("line").attr("x1", M.left).attr("x2", M.right).attr("y1", y(refLines[1])).attr("y2", y(refLines[1]))
  .attr("stroke", "#c81414").attr("stroke-width", 2.4);

// points
const plusPath = "M-4.5,0H4.5M0,-4.5V4.5";
svg.append("g").selectAll("path").data(redPts).join("path")
  .attr("d", plusPath).attr("transform", d => `translate(${x(d[0])},${y(d[1])})`)
  .attr("stroke", RED).attr("stroke-width", 2.6).attr("fill", "none");
svg.append("g").selectAll("path").data(blackPts).join("path")
  .attr("d", plusPath).attr("transform", d => `translate(${x(d[0])},${y(d[1])})`)
  .attr("stroke", "#000").attr("stroke-width", 2.6).attr("fill", "none");

function styleAxis(g, color) {
  g.select(".domain").attr("stroke", color).attr("stroke-width", 2);
  g.selectAll(".tick line").attr("stroke", color).attr("stroke-width", 2);
}
function thinText(sel, color) {
  sel.attr("font-family", tickFont).attr("font-weight", 200).attr("fill", color)
     .attr("stroke", color).attr("stroke-width", 0.9);
}

// bottom axis
const gB = svg.append("g").attr("transform", `translate(0,${M.bottom})`);
gB.append("g").call(d3.axisBottom(x).tickValues(xMinorTicks).tickSizeInner(-14).tickSizeOuter(0).tickFormat(""))
  .call(g => styleAxis(g, "#000"));
const gBM = gB.append("g").call(d3.axisBottom(x).tickValues(xMajorTicks).tickSizeInner(-28).tickSizeOuter(0).tickFormat(d3.format("d")))
  .call(g => styleAxis(g, "#000"));
gBM.selectAll(".tick text").attr("y", 58).attr("dy", null).attr("x", 2).attr("font-size", 40)
  .call(s => thinText(s, "#222"));

// top axis
const gT = svg.append("g").attr("transform", `translate(0,${M.top})`);
gT.append("g").call(d3.axisTop(x).tickValues(xMinorTicks).tickSizeInner(-14).tickSizeOuter(0).tickFormat(""))
  .call(g => styleAxis(g, "#000"));
gT.append("g").call(d3.axisTop(x).tickValues(xMajorTicks).tickSizeInner(-28).tickSizeOuter(0).tickFormat(""))
  .call(g => styleAxis(g, "#000"));

// right axis
const gR = svg.append("g").attr("transform", `translate(${M.right},0)`);
gR.append("g").call(d3.axisRight(yR).tickValues(rMinorTicks).tickSizeInner(-14).tickSizeOuter(0).tickFormat(""))
  .call(g => styleAxis(g, "#000"));
const gRM = gR.append("g").call(d3.axisRight(yR).tickValues(rMajorTicks).tickSizeInner(-28).tickSizeOuter(0)
  .tickFormat((d, i) => rTickLabels[i])).call(g => styleAxis(g, "#000"));
gRM.selectAll(".tick text").each(function(d, i) {
  const off = i === 0 ? 30 : 16;
  d3.select(this).attr("x", 17).attr("y", off).attr("dy", null).attr("text-anchor", "start")
    .attr("font-size", 40).call(s => thinText(s, "#444"))
    .attr("textLength", rTickLabels[i].length === 4 ? 103 : 73).attr("lengthAdjust", "spacingAndGlyphs");
});

// left axis (red)
const gL = svg.append("g").attr("transform", `translate(${M.left},0)`);
gL.append("g").call(d3.axisLeft(y).tickValues(yMinorTicks).tickSizeInner(-17).tickSizeOuter(0).tickFormat(""))
  .call(g => styleAxis(g, RED));
const gLM = gL.append("g").call(d3.axisLeft(y).tickValues(yMajorTicks).tickSizeInner(-30).tickSizeOuter(0)
  .tickFormat((d, i) => yTickLabels[i])).call(g => styleAxis(g, RED));
gLM.selectAll(".tick text").each(function(d, i) {
  const off = i === 0 ? 30 : (i === yMajorTicks.length - 1 ? 1 : 16.5);
  d3.select(this).attr("x", -19).attr("y", off).attr("dy", null).attr("text-anchor", "end")
    .attr("font-size", 40).call(s => thinText(s, "#b81c1c"))
    .attr("textLength", yTickLabels[i].length === 4 ? 110 : 73).attr("lengthAdjust", "spacingAndGlyphs");
});

// axis titles
svg.append("text").attr("x", 941).attr("y", 1209).attr("text-anchor", "middle").attr("font-size", 38)
  .call(s => thinText(s, "#333"))
  .attr("textLength", 314).attr("lengthAdjust", "spacingAndGlyphs").text("DOY in 2017");
svg.append("text").attr("transform", "translate(53,560) rotate(-90)").attr("text-anchor", "middle").attr("font-size", 45)
  .call(s => thinText(s, "#c02828"))
  .attr("textLength", 429).attr("lengthAdjust", "spacingAndGlyphs").text("Spin Rate (Deg/Sec)");
svg.append("text").attr("transform", "translate(1828,559) rotate(-90)").attr("text-anchor", "middle").attr("font-size", 42)
  .call(s => thinText(s, "#444"))
  .attr("textLength", 620).attr("lengthAdjust", "spacingAndGlyphs").text("Ratio of Limb\u2212to\u2212Limb Times");

// annotations
const BLUE = "#1f497d", ARROW = "#4f81bd";
const annFont = "Lato, 'Open Sans', sans-serif";
function ann(txt, xx, yy, len, size) {
  return svg.append("text").attr("x", xx).attr("y", yy).attr("font-family", annFont).attr("font-weight", 700)
    .attr("font-size", size || 42).attr("fill", BLUE).attr("textLength", len).attr("lengthAdjust", "spacingAndGlyphs").text(txt);
}
ann("BCT/XACT spin rate biases!", 593, 107, 530);
ann("Ratio =", 1242, 180, 133);
ann("Time_Obs", 1424, 152, 199);
ann("Time_Sim", 1424, 208, 195);
svg.append("line").attr("x1", 1424).attr("x2", 1623).attr("y1", 157.5).attr("y2", 157.5).attr("stroke", BLUE).attr("stroke-width", 3);
ann("All data with angle from nadir < 20", 594, 1042, 668);
ann("o", 1266, 1026, 16, 26);

const defs = svg.append("defs");
defs.append("marker").attr("id", "ah").attr("viewBox", "0 0 10 10").attr("refX", 9).attr("refY", 5)
  .attr("markerUnits", "userSpaceOnUse").attr("markerWidth", 26).attr("markerHeight", 22).attr("orient", "auto")
  .append("path").attr("d", "M0,0L10,5L0,10Z").attr("fill", ARROW);
[[792, 132, 725, 195], [924, 132, 1069, 242]].forEach(a => {
  svg.append("line").attr("x1", a[0]).attr("y1", a[1]).attr("x2", a[2]).attr("y2", a[3])
    .attr("stroke", ARROW).attr("stroke-width", 4.5).attr("marker-end", "url(#ah)");
});
</script>
</body></html>
